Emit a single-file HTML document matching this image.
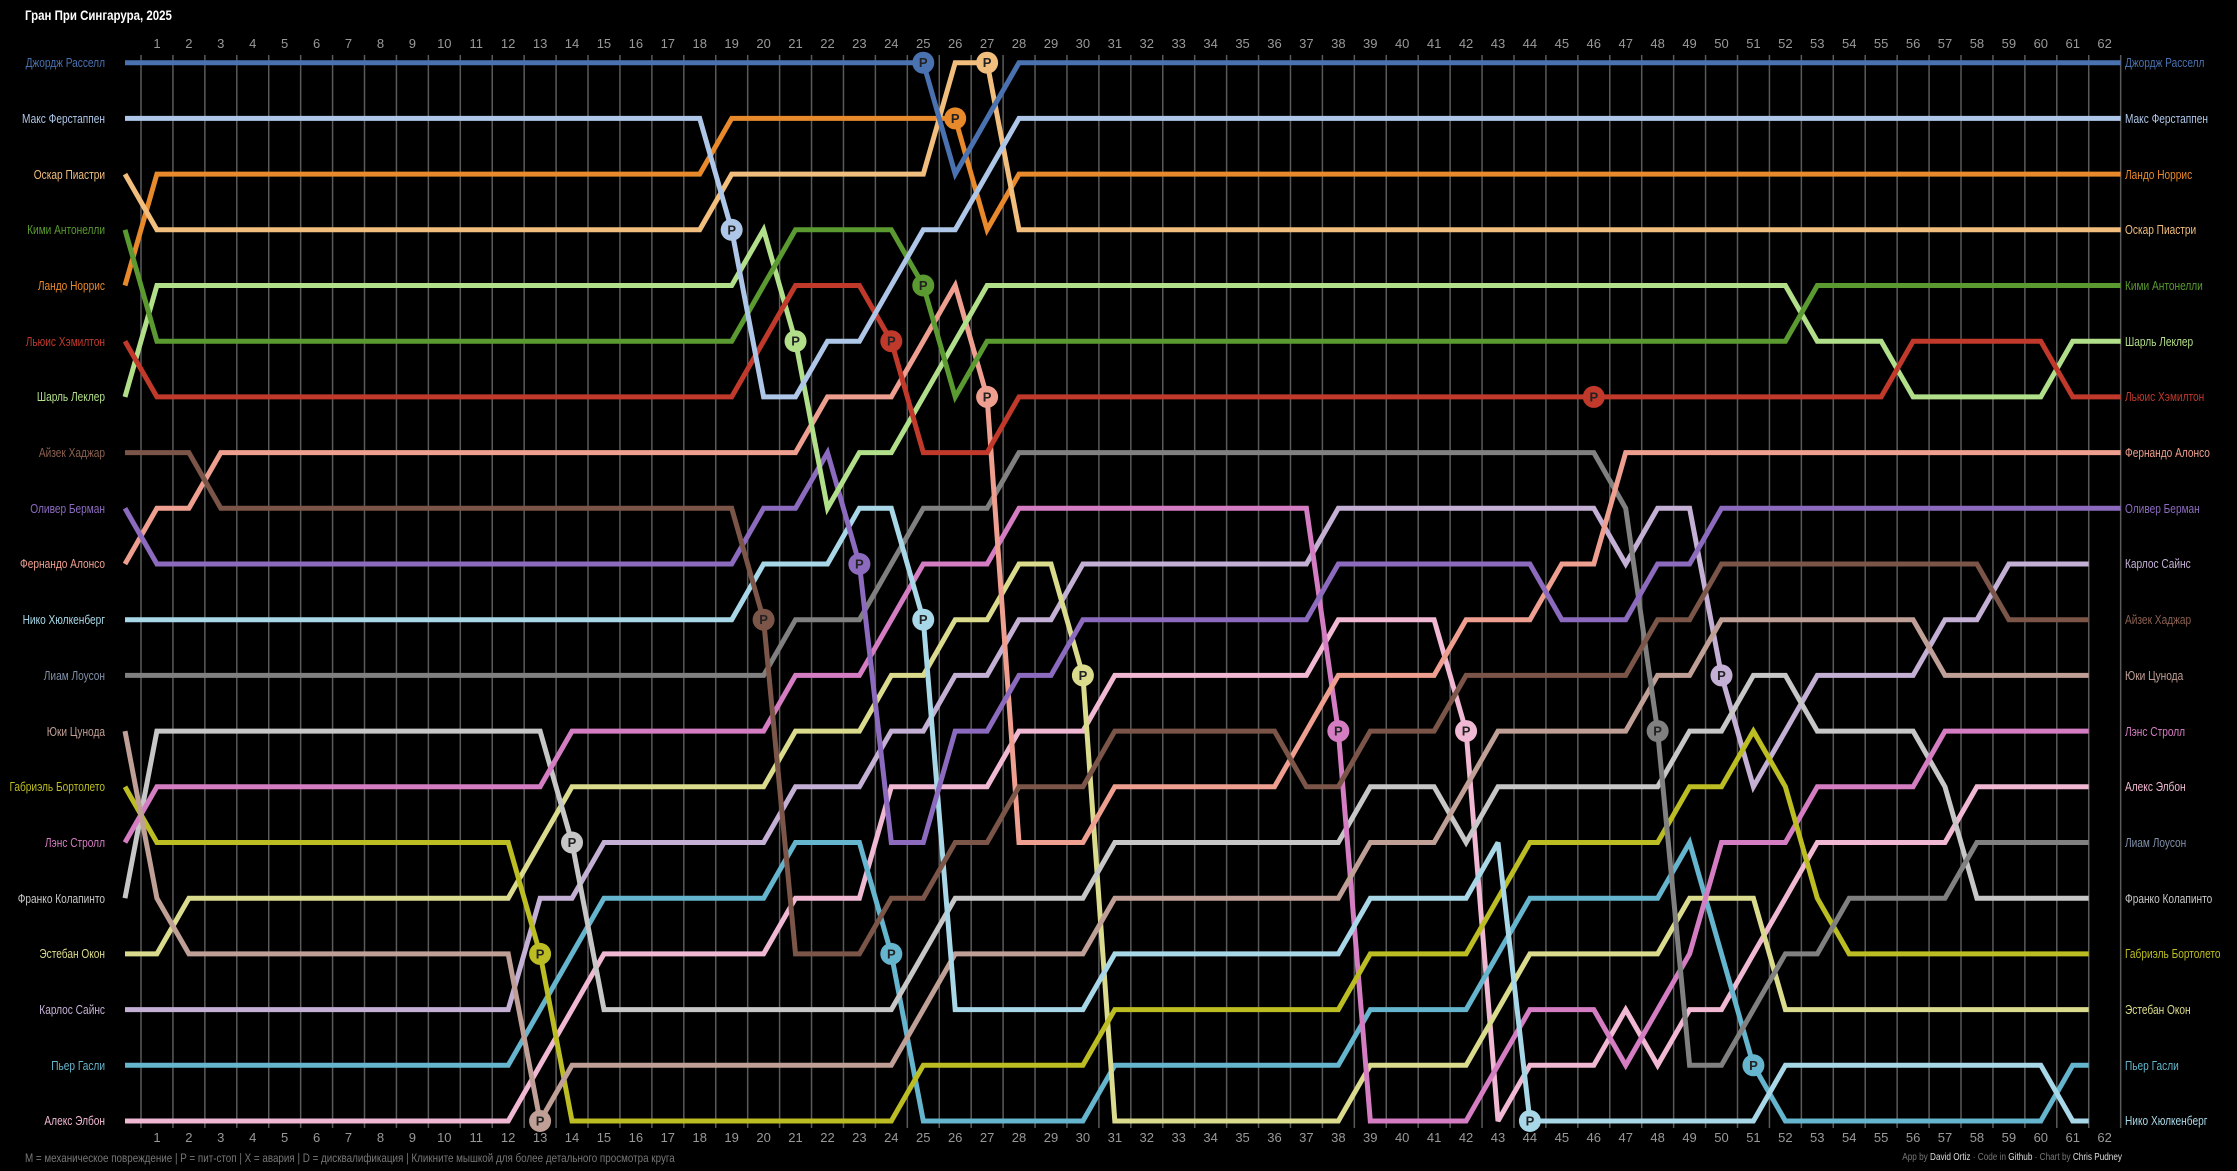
<!DOCTYPE html>
<html><head><meta charset="utf-8">
<style>
html,body{margin:0;padding:0;background:#000;}
svg{display:block;}
.t{font-family:"Liberation Sans Narrow","Liberation Sans",sans-serif;font-size:13px;}
</style></head>
<body>
<svg id="c" width="2237" height="1171" viewBox="0 0 2237 1171" xmlns="http://www.w3.org/2000/svg">
<rect width="2237" height="1171" fill="#000"/>
<g transform="translate(25,0) scale(0.82,1)">
<text x="0" y="20" fill="#fff" font-family="Liberation Sans Narrow, Liberation Sans, sans-serif" font-size="14" font-weight="bold">Гран При Сингарура, 2025</text>
</g>
<g id="grid"></g>
<g id="laps" class="t" fill="#999" text-anchor="middle"></g>
<g id="lines" fill="none" stroke-width="5"></g>
<g id="pits"></g>
<g class="t" text-anchor="end" transform="translate(105,0) scale(0.78,1)">
<text x="0" y="67" fill="#4a72b0">Джордж Расселл</text>
<text x="0" y="123" fill="#aec7e8">Макс Ферстаппен</text>
<text x="0" y="179" fill="#f2be7e">Оскар Пиастри</text>
<text x="0" y="234" fill="#5a9a31">Кими Антонелли</text>
<text x="0" y="290" fill="#e8892b">Ландо Норрис</text>
<text x="0" y="346" fill="#c0392b">Льюис Хэмилтон</text>
<text x="0" y="401" fill="#b2df8a">Шарль Леклер</text>
<text x="0" y="457" fill="#8a6050">Айзек Хаджар</text>
<text x="0" y="513" fill="#8c6bbf">Оливер Берман</text>
<text x="0" y="568" fill="#ef9f8f">Фернандо Алонсо</text>
<text x="0" y="624" fill="#a8d8e8">Нико Хюлкенберг</text>
<text x="0" y="680" fill="#8090a8">Лиам Лоусон</text>
<text x="0" y="736" fill="#c0a096">Юки Цунода</text>
<text x="0" y="791" fill="#bcbd22">Габриэль Бортолето</text>
<text x="0" y="847" fill="#d57dc3">Лэнс Стролл</text>
<text x="0" y="903" fill="#c7c7c7">Франко Колапинто</text>
<text x="0" y="958" fill="#dbdb8d">Эстебан Окон</text>
<text x="0" y="1014" fill="#c5b0d5">Карлос Сайнс</text>
<text x="0" y="1070" fill="#64b5cd">Пьер Гасли</text>
<text x="0" y="1125" fill="#f0b8d2">Алекс Элбон</text>
</g>
<g class="t" text-anchor="start" transform="translate(2125,0) scale(0.78,1)">
<text x="0" y="67" fill="#4a72b0">Джордж Расселл</text>
<text x="0" y="123" fill="#aec7e8">Макс Ферстаппен</text>
<text x="0" y="179" fill="#e8892b">Ландо Норрис</text>
<text x="0" y="234" fill="#f2be7e">Оскар Пиастри</text>
<text x="0" y="290" fill="#5a9a31">Кими Антонелли</text>
<text x="0" y="346" fill="#b2df8a">Шарль Леклер</text>
<text x="0" y="401" fill="#c0392b">Льюис Хэмилтон</text>
<text x="0" y="457" fill="#ef9f8f">Фернандо Алонсо</text>
<text x="0" y="513" fill="#8c6bbf">Оливер Берман</text>
<text x="0" y="568" fill="#c5b0d5">Карлос Сайнс</text>
<text x="0" y="624" fill="#8a6050">Айзек Хаджар</text>
<text x="0" y="680" fill="#c0a096">Юки Цунода</text>
<text x="0" y="736" fill="#d57dc3">Лэнс Стролл</text>
<text x="0" y="791" fill="#f0b8d2">Алекс Элбон</text>
<text x="0" y="847" fill="#8090a8">Лиам Лоусон</text>
<text x="0" y="903" fill="#c7c7c7">Франко Колапинто</text>
<text x="0" y="958" fill="#bcbd22">Габриэль Бортолето</text>
<text x="0" y="1014" fill="#dbdb8d">Эстебан Окон</text>
<text x="0" y="1070" fill="#64b5cd">Пьер Гасли</text>
<text x="0" y="1125" fill="#a8d8e8">Нико Хюлкенберг</text>
</g>
<g transform="translate(25,0) scale(0.82,1)">
<text x="0" y="1162" fill="#777" font-family="Liberation Sans Narrow, Liberation Sans, sans-serif" font-size="12">M = механическое повреждение | P = пит-стоп | X = авария | D = дисквалификация | Кликните мышкой для более детального просмотра круга</text>
</g>
<g transform="translate(2122,0) scale(0.82,1)">
<text x="0" y="1160" text-anchor="end" fill="#777" font-family="Liberation Sans Narrow, Liberation Sans, sans-serif" font-size="10">App by <tspan fill="#ddd">David Ortiz</tspan> · Code in <tspan fill="#ddd">Github</tspan> · Chart by <tspan fill="#ddd">Chris Pudney</tspan></text>
</g>
</svg>
<script>
(function(){
var NS="http://www.w3.org/2000/svg";
function X(n){return 125+31.93*n;}
function Y(p){return 62.7+55.7*(p-1);}
function el(t,a,parent){var e=document.createElementNS(NS,t);for(var k in a)e.setAttribute(k,a[k]);parent.appendChild(e);return e;}
var grid=document.getElementById('grid'),laps=document.getElementById('laps'),lines=document.getElementById('lines'),pits=document.getElementById('pits');
for(var n=0;n<=62;n++){
  var gx=X(n)+16;
  el('line',{x1:gx,x2:gx,y1:55,y2:1128,stroke:'#5a5a5a','stroke-width':1.5},grid);
}
for(var n=1;n<=62;n++){
  var t=el('text',{x:X(n),y:48},laps);t.textContent=n;
  var b=el('text',{x:X(n),y:1142},laps);b.textContent=n;
}
var D=[
['#4a72b0','0:1,26:3,27:2,28:1',[25]],
['#aec7e8','0:2,19:4,20:7,22:6,24:5,25:4,27:3,28:2',[19]],
['#f2be7e','0:3,1:4,19:3,26:1,28:4',[27]],
['#5a9a31','0:4,1:6,20:5,21:4,25:5,26:7,27:6,53:5',[25]],
['#e8892b','0:5,1:3,19:2,27:4,28:3',[26]],
['#c0392b','0:6,1:7,20:6,21:5,24:6,25:8,28:7,56:6,61:7',[24,46]],
['#b2df8a','0:7,1:5,20:4,21:6,22:9,23:8,25:7,26:6,27:5,53:6,56:7,61:6',[21]],
['#7b5548','0:8,3:9,20:11,21:17,24:16,26:15,28:14,31:13,37:14,39:13,42:12,48:11,50:10,59:11',[20]],
['#8c6bbf','0:9,1:10,20:9,22:8,23:10,24:15,26:13,28:12,30:11,38:10,45:11,48:10,50:9',[23]],
['#ef9f8f','0:10,1:9,3:8,22:7,25:6,26:5,27:7,28:15,31:14,37:13,38:12,42:11,45:10,47:8',[27]],
['#a8d8e8','0:11,20:10,23:9,25:11,26:18,31:17,39:16,43:15,44:20,52:19,61:20',[25,44]],
['#808080','0:12,21:11,24:10,25:9,28:8,47:9,48:13,49:19,51:18,52:17,54:16,58:15',[48]],
['#c0a096','0:13,1:16,2:17,13:20,14:19,25:18,26:17,31:16,39:15,42:14,43:13,48:12,50:11,57:12',[13]],
['#bcbd22','0:14,1:15,13:17,14:20,25:19,31:18,39:17,43:16,44:15,49:14,51:13,52:14,53:16,54:17',[13]],
['#d57dc3','0:15,1:14,14:13,21:12,24:11,25:10,28:9,38:13,39:20,43:19,44:18,47:19,48:18,49:17,50:15,53:14,57:13',[38]],
['#c7c7c7','0:16,1:13,14:15,15:18,25:17,26:16,31:15,39:14,42:15,43:14,49:13,51:12,53:13,57:14,58:16',[14]],
['#dbdb8d','0:17,2:16,13:15,14:14,21:13,24:12,26:11,28:10,30:12,31:20,39:19,43:18,44:17,49:16,52:18',[30]],
['#c5b0d5','0:18,13:16,15:15,21:14,24:13,26:12,28:11,30:10,38:9,47:10,48:9,50:12,51:14,52:13,53:12,57:11,59:10',[50]],
['#64b5cd','0:19,13:18,14:17,15:16,21:15,24:17,25:20,31:19,39:18,43:17,44:16,49:15,50:17,51:19,52:20,61:19',[24,51]],
['#f0b8d2','0:20,13:19,14:18,15:17,21:16,24:14,28:13,31:12,38:11,42:13,43:20,44:19,47:18,48:19,49:18,51:17,52:16,53:15,58:14',[42]]
];
var all=[];
D.forEach(function(d){
  var ch={};d[1].split(',').forEach(function(s){var q=s.split(':');ch[+q[0]]=+q[1];});
  var pos=[],cur=0;
  for(var n=0;n<=62;n++){if(ch[n]!==undefined)cur=ch[n];pos.push(cur);}
  var end=pos[62]<=9?62:61;
  var pts=[];
  for(var n=0;n<=end;n++)pts.push(X(n).toFixed(1)+','+Y(pos[n]).toFixed(1));
  pts.push((X(end)+16).toFixed(1)+','+Y(pos[end]).toFixed(1));
  all.push([d,pos,pts]);
});
for(var i=all.length-1;i>=0;i--){
  el('polyline',{points:all[i][2].join(' '),stroke:all[i][0][0],'stroke-linejoin':'miter','stroke-miterlimit':3},lines);
}
all.forEach(function(a){
  a[0][2].forEach(function(l){
    var cx=X(l),cy=Y(a[1][l]);
    el('circle',{cx:cx,cy:cy,r:11,fill:a[0][0]},pits);
    var t=el('text',{x:cx,y:cy+4.5,'text-anchor':'middle',fill:'#222','font-family':'Liberation Sans Narrow, Liberation Sans, sans-serif','font-size':13,'font-weight':'bold'},pits);
    t.textContent='P';
  });
});
})();
</script>
</body></html>
